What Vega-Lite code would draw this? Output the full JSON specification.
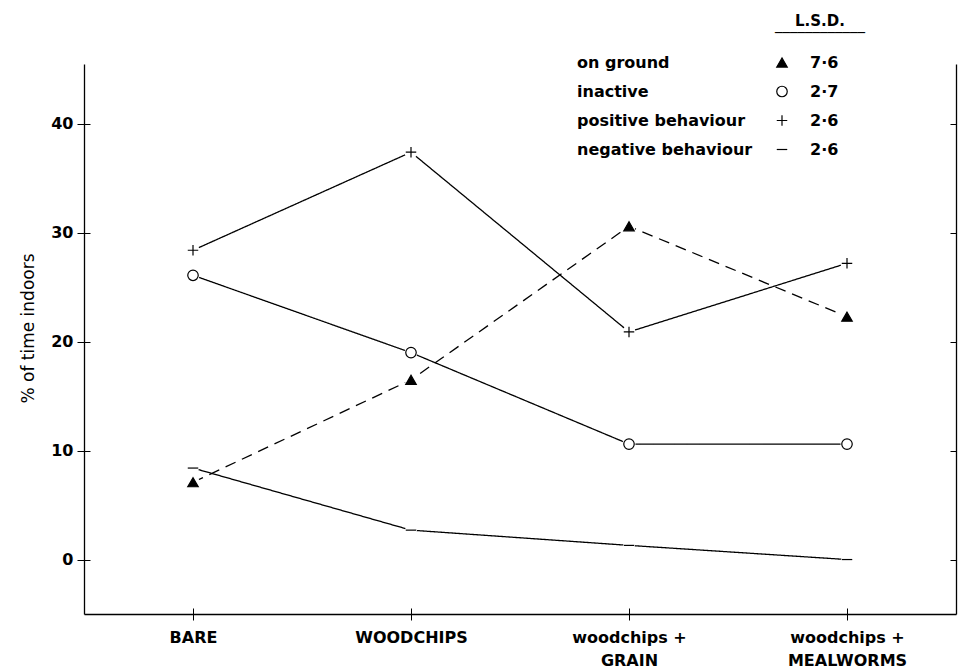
{
  "$schema": "https://vega.github.io/schema/vega-lite/v6.json",
  "width": 872,
  "height": 550,
  "autosize": {"type": "none"},
  "padding": {"left": 84, "top": 64, "right": 2, "bottom": 58},
  "background": "white",
  "title": {
    "text": "L.S.D.",
    "subtitle": "‾‾‾‾‾‾‾‾‾‾‾‾",
    "anchor": "end",
    "frame": "group",
    "align": "center",
    "dx": -136,
    "offset": 7.5,
    "font": "DejaVu Sans",
    "fontSize": 15,
    "fontWeight": "bold",
    "color": "black",
    "subtitleFont": "DejaVu Sans",
    "subtitleFontSize": 15,
    "subtitleFontWeight": "normal",
    "subtitleColor": "black",
    "subtitlePadding": 3
  },
  "data": {
    "values": [
      {"condition": "BARE", "series": "on ground", "pct": 7.1},
      {"condition": "WOODCHIPS", "series": "on ground", "pct": 16.5},
      {"condition": "woodchips + GRAIN", "series": "on ground", "pct": 30.6},
      {"condition": "woodchips + MEALWORMS", "series": "on ground", "pct": 22.3},
      {"condition": "BARE", "series": "inactive", "pct": 26.1},
      {"condition": "WOODCHIPS", "series": "inactive", "pct": 19.0},
      {"condition": "woodchips + GRAIN", "series": "inactive", "pct": 10.6},
      {"condition": "woodchips + MEALWORMS", "series": "inactive", "pct": 10.6},
      {"condition": "BARE", "series": "positive behaviour", "pct": 28.4},
      {"condition": "WOODCHIPS", "series": "positive behaviour", "pct": 37.4},
      {"condition": "woodchips + GRAIN", "series": "positive behaviour", "pct": 20.9},
      {"condition": "woodchips + MEALWORMS", "series": "positive behaviour", "pct": 27.2},
      {"condition": "BARE", "series": "negative behaviour", "pct": 8.4},
      {"condition": "WOODCHIPS", "series": "negative behaviour", "pct": 2.7},
      {"condition": "woodchips + GRAIN", "series": "negative behaviour", "pct": 1.3},
      {"condition": "woodchips + MEALWORMS", "series": "negative behaviour", "pct": 0.0}
    ]
  },
  "layer": [
    {
      "mark": {"type": "line", "stroke": "black", "strokeWidth": 1.3},
      "encoding": {
        "x": {
          "field": "condition", "type": "nominal",
          "sort": ["BARE", "WOODCHIPS", "woodchips + GRAIN", "woodchips + MEALWORMS"],
          "scale": {"type": "point", "padding": 0.5},
          "axis": {
            "orient": "bottom", "title": null, "domain": true, "domainColor": "black", "domainWidth": 1.3,
            "ticks": true, "tickSize": 6, "tickColor": "black", "tickWidth": 1,
            "labelAngle": 0, "labelPadding": 9, "labelLineHeight": 23,
            "labelFont": "DejaVu Sans", "labelFontSize": 16, "labelFontWeight": "bold", "labelColor": "black",
            "labelExpr": "datum.value == 'woodchips + GRAIN' ? ['woodchips +', 'GRAIN'] : datum.value == 'woodchips + MEALWORMS' ? ['woodchips +', 'MEALWORMS'] : datum.label",
            "grid": false
          }
        },
        "y": {
          "field": "pct", "type": "quantitative",
          "scale": {"domain": [-5, 45.5], "nice": false, "zero": false},
          "axis": {
            "orient": "left", "values": [0, 10, 20, 30, 40],
            "domain": true, "domainColor": "black", "domainWidth": 1.3,
            "tickSize": 7, "tickColor": "black", "tickWidth": 1,
            "labelPadding": 4, "labelFont": "DejaVu Sans", "labelFontSize": 16, "labelFontWeight": "bold", "labelColor": "black",
            "grid": false,
            "title": "% of time indoors",
            "titleFont": "DejaVu Sans", "titleFontSize": 17, "titleFontWeight": "normal", "titleColor": "black",
            "titleAngle": 270, "titleAlign": "center", "titleBaseline": "alphabetic",
            "titleX": -51, "titleY": 264
          }
        },
        "strokeDash": {
          "field": "series", "type": "nominal",
          "sort": ["on ground", "inactive", "positive behaviour", "negative behaviour"],
          "scale": {"range": [[11, 7], [1, 0], [1, 0], [1, 0]]},
          "legend": {
            "orient": "none", "legendX": 477, "legendY": -9.5, "title": null, "padding": 0,
            "symbolSize": 0, "symbolOpacity": 0, "symbolStrokeWidth": 0, "labelOffset": 0,
            "rowPadding": 13, "labelLimit": 300,
            "labelFont": "DejaVu Sans", "labelFontSize": 16, "labelFontWeight": "bold", "labelColor": "black"
          }
        }
      }
    },
    {
      "transform": [{"filter": "datum.series != 'negative behaviour'"}],
      "mark": {"type": "point", "shape": "circle", "filled": true, "fill": "white", "opacity": 1, "size": 170, "strokeWidth": 0},
      "encoding": {
        "x": {
          "field": "condition", "type": "nominal",
          "sort": ["BARE", "WOODCHIPS", "woodchips + GRAIN", "woodchips + MEALWORMS"],
          "scale": {"type": "point", "padding": 0.5},
          "axis": {"orient": "bottom", "offset": -6, "title": null, "domain": false, "labels": false, "grid": false, "tickSize": 6, "tickColor": "black", "tickWidth": 1}
        },
        "y": {
          "field": "pct", "type": "quantitative",
          "scale": {"domain": [-5, 45.5], "nice": false, "zero": false},
          "axis": {"orient": "left", "offset": -6, "values": [0, 10, 20, 30, 40], "title": null, "domain": false, "labels": false, "grid": false, "tickSize": 6, "tickColor": "black", "tickWidth": 1}
        }
      }
    },
    {
      "transform": [{"filter": "datum.series == 'negative behaviour'"}],
      "mark": {"type": "point", "shape": "circle", "filled": true, "fill": "white", "opacity": 1, "size": 140, "strokeWidth": 0},
      "encoding": {
        "x": {
          "field": "condition", "type": "nominal",
          "sort": ["BARE", "WOODCHIPS", "woodchips + GRAIN", "woodchips + MEALWORMS"],
          "scale": {"type": "point", "padding": 0.5},
          "axis": null
        },
        "y": {
          "field": "pct", "type": "quantitative",
          "scale": {"domain": [-5, 45.5], "nice": false, "zero": false},
          "axis": {"orient": "right", "offset": -6, "values": [0, 10, 20, 30, 40], "title": null, "domain": false, "labels": false, "grid": false, "tickSize": 6, "tickColor": "black", "tickWidth": 1}
        }
      }
    },
    {
      "mark": {"type": "point", "filled": true, "stroke": "black", "opacity": 1, "size": 110},
      "encoding": {
        "x": {
          "field": "condition", "type": "nominal",
          "sort": ["BARE", "WOODCHIPS", "woodchips + GRAIN", "woodchips + MEALWORMS"],
          "scale": {"type": "point", "padding": 0.5},
          "axis": null
        },
        "y": {
          "field": "pct", "type": "quantitative",
          "scale": {"domain": [-5, 45.5], "nice": false, "zero": false},
          "axis": {"orient": "right", "values": [0, 10, 20, 30, 40], "title": null, "domain": true, "domainColor": "black", "domainWidth": 1.3, "labels": false, "grid": false, "ticks": false}
        },
        "shape": {
          "field": "series", "type": "nominal",
          "scale": {"domain": ["on ground", "inactive", "positive behaviour", "negative behaviour"], "range": ["triangle-up", "circle", "M-1,0H1M0,-1V1", "M-1,0H1"]},
          "legend": {
            "orient": "none", "legendX": 690, "legendY": -9.5, "title": null, "padding": 0,
            "symbolSize": 110, "labelOffset": 20, "rowPadding": 13,
            "labelFont": "DejaVu Sans", "labelFontSize": 16, "labelFontWeight": "bold", "labelColor": "black",
            "labelExpr": "datum.label == 'on ground' ? '7·6' : datum.label == 'inactive' ? '2·7' : '2·6'",
            "encode": {"symbols": {"update": {"stroke": {"value": "black"}, "strokeWidth": {"signal": "datum.value == 'negative behaviour' ? 2.5 : 1.3"}}}}
          }
        },
        "fill": {
          "field": "series", "type": "nominal",
          "scale": {"domain": ["on ground", "inactive", "positive behaviour", "negative behaviour"], "range": ["black", "white", "transparent", "transparent"]},
          "legend": {
            "orient": "none", "legendX": 690, "legendY": -9.5, "title": null, "padding": 0,
            "symbolSize": 110, "labelOffset": 20, "rowPadding": 13,
            "labelFont": "DejaVu Sans", "labelFontSize": 16, "labelFontWeight": "bold", "labelColor": "black",
            "labelExpr": "datum.label == 'on ground' ? '7·6' : datum.label == 'inactive' ? '2·7' : '2·6'",
            "encode": {"symbols": {"update": {"stroke": {"value": "black"}, "strokeWidth": {"signal": "datum.value == 'negative behaviour' ? 2.5 : 1.3"}}}}
          }
        },
        "strokeWidth": {
          "field": "series", "type": "nominal",
          "scale": {"domain": ["on ground", "inactive", "positive behaviour", "negative behaviour"], "range": [1.2, 1.2, 1.5, 2.5]},
          "legend": {
            "orient": "none", "legendX": 690, "legendY": -9.5, "title": null, "padding": 0,
            "symbolSize": 110, "labelOffset": 20, "rowPadding": 13,
            "labelFont": "DejaVu Sans", "labelFontSize": 16, "labelFontWeight": "bold", "labelColor": "black",
            "labelExpr": "datum.label == 'on ground' ? '7·6' : datum.label == 'inactive' ? '2·7' : '2·6'",
            "encode": {"symbols": {"update": {"stroke": {"value": "black"}, "strokeWidth": {"signal": "datum.value == 'negative behaviour' ? 2.5 : 1.3"}}}}
          }
        }
      }
    }
  ],
  "resolve": {"axis": {"x": "independent", "y": "independent"}},
  "config": {
    "view": {"stroke": null},
    "font": "DejaVu Sans"
  }
}
